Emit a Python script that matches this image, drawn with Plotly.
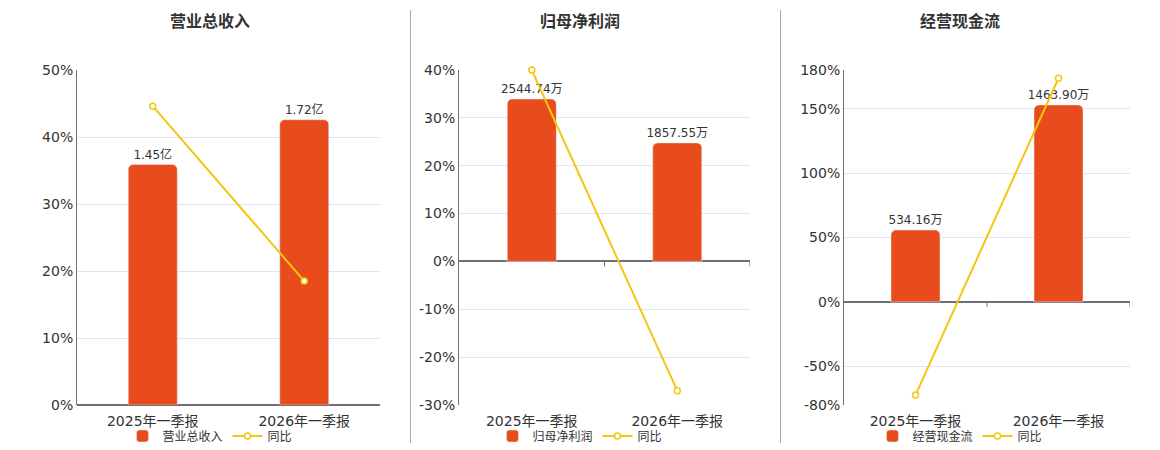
import plotly.graph_objects as go

# data
categories = ["2025年一季报", "2026年一季报"]

revenue = [1.45, 1.72]  # 亿
revenue_yoy = [44.6, 18.5]  # %

profit = [2544.74, 1857.55]  # 万
profit_yoy = [40.0, -27.0]

cashflow = [534.16, 1463.90]  # 万
cashflow_yoy = [-72.3, 173.6]

panels = [
    {"title": "营业总收入", "bars": revenue, "unit": "亿", "yoy": revenue_yoy,
     "pct_range": [0, 50], "pct_ticks": [0, 10, 20, 30, 40, 50], "bar_top": 2.02,
     "px": (77, 380), "center": 210},
    {"title": "归母净利润", "bars": profit, "unit": "万", "yoy": profit_yoy,
     "pct_range": [-30, 40], "pct_ticks": [-30, -20, -10, 0, 10, 20, 30, 40], "bar_top": 3000,
     "px": (459, 750), "center": 580},
    {"title": "经营现金流", "bars": cashflow, "unit": "万", "yoy": cashflow_yoy,
     "pct_range": [-80, 180], "pct_ticks": [-80, -50, 0, 50, 100, 150, 180], "bar_top": 1724,
     "px": (844, 1130), "center": 960},
]

W, H = 1160, 450
BAR_COLOR = "#E84B1C"
LINE_COLOR = "#F2C80F"
AXIS_COLOR = "#6E7079"
GRID_COLOR = "#E0E6F1"
TEXT_COLOR = "#333333"
FONT = "DejaVu Sans, Noto Sans CJK SC, sans-serif"

y_dom = [1 - 405 / H, 1 - 70 / H]

fig = go.Figure()
layout = {}
shapes = []
annotations = []

for i, p in enumerate(panels, start=1):
    xa = "x" if i == 1 else f"x{i}"
    ya_bar = "y" if i == 1 else f"y{i}"
    ya_pct = f"y{i + 3}"
    legend = "legend" if i == 1 else f"legend{i}"

    lo, hi = p["pct_range"]
    bar_lo = lo / hi * p["bar_top"]
    band_px = (p["px"][1] - p["px"][0]) / len(categories)

    fig.add_trace(go.Bar(
        x=categories, y=p["bars"], name=p["title"],
        text=[f"{v:.2f}{p['unit']}" for v in p["bars"]],
        textposition="outside", cliponaxis=False, constraintext="none",
        textfont=dict(size=12, color=TEXT_COLOR),
        marker=dict(color=BAR_COLOR, cornerradius=5),
        width=49 / band_px,
        xaxis=xa, yaxis=ya_bar, legend=legend,
    ))
    fig.add_trace(go.Scatter(
        x=categories, y=p["yoy"], name="同比", mode="lines+markers",
        line=dict(color=LINE_COLOR, width=2),
        marker=dict(symbol="circle", size=6, color="white",
                    line=dict(color=LINE_COLOR, width=1.5)),
        cliponaxis=False,
        xaxis=xa, yaxis=ya_pct, legend=legend,
    ))

    x_dom = [p["px"][0] / W, p["px"][1] / W]
    layout["xaxis" if i == 1 else f"xaxis{i}"] = dict(
        domain=x_dom, anchor=ya_bar, type="category",
        categoryarray=categories, range=[-0.5, len(categories) - 0.5],
        showline=False, showgrid=False, ticks="", ticklabelstandoff=6,
        tickfont=dict(size=14, color=TEXT_COLOR),
    )
    layout["yaxis" if i == 1 else f"yaxis{i}"] = dict(
        domain=y_dom, anchor=xa, range=[bar_lo, p["bar_top"]],
        visible=False, showgrid=False, zeroline=False,
    )
    layout[f"yaxis{i + 3}"] = dict(
        domain=y_dom, anchor=xa, overlaying=ya_bar, side="left",
        range=p["pct_range"], tickmode="array", tickvals=p["pct_ticks"],
        ticktext=[f"{v}%" for v in p["pct_ticks"]],
        showline=True, linecolor=AXIS_COLOR, linewidth=1,
        showgrid=True, gridcolor=GRID_COLOR, gridwidth=1,
        zeroline=True, zerolinecolor=AXIS_COLOR, zerolinewidth=1.8,
        ticks="", tickfont=dict(size=14, color=TEXT_COLOR),
    )

    # small ticks on the zero line at category boundaries
    for k in range(1, len(categories) + 1):
        shapes.append(dict(
            type="line", xref=xa, yref=ya_pct,
            x0=k - 0.5, x1=k - 0.5, ysizemode="pixel", yanchor=0, y0=0, y1=-5,
            line=dict(color=AXIS_COLOR, width=1),
        ))

    annotations.append(dict(
        text=f"<b>{p['title']}</b>", x=p["center"] / W, y=1 - 22 / H,
        xref="paper", yref="paper", xanchor="center", yanchor="middle",
        showarrow=False, font=dict(size=16, color=TEXT_COLOR),
    ))

    layout[legend] = dict(
        orientation="h", x=p["center"] / W, y=1 - 436 / H,
        xanchor="center", yanchor="middle",
        font=dict(size=12, color=TEXT_COLOR), itemwidth=30,
        bgcolor="rgba(0,0,0,0)",
    )

# vertical separators between panels
for sx in (410.5, 780.5):
    shapes.append(dict(
        type="line", xref="paper", yref="paper",
        x0=sx / W, x1=sx / W, y0=1 - 443 / H, y1=1 - 10 / H,
        line=dict(color="#AAAAAA", width=1),
    ))

fig.update_layout(
    width=W, height=H,
    margin=dict(l=0, r=0, t=0, b=0, pad=0, autoexpand=False),
    paper_bgcolor="white", plot_bgcolor="white",
    font=dict(family=FONT, color=TEXT_COLOR),
    barmode="overlay",
    shapes=shapes, annotations=annotations,
    **layout,
)

# the page body has an 8px default margin; drop it so the figure fills the window
fig.write_html("out.html", config={"displayModeBar": False},
               post_script="document.body.style.margin = '0';")
